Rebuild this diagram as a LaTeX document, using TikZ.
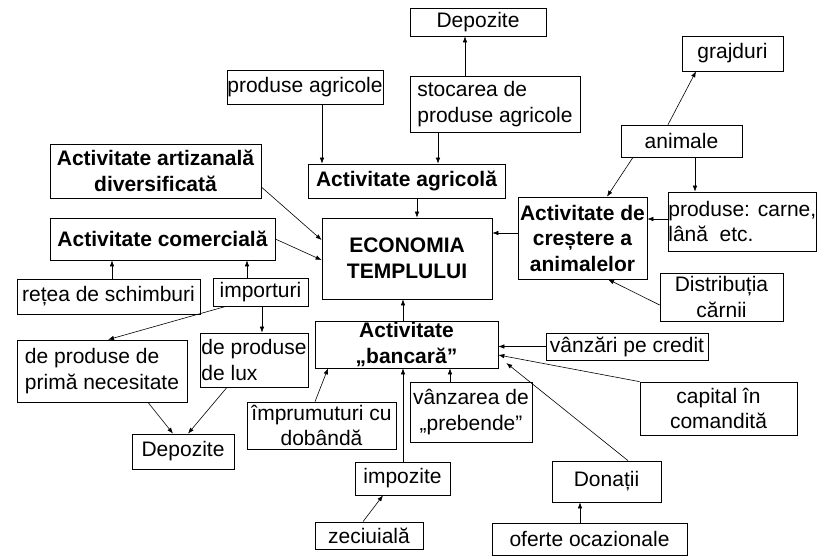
\documentclass[tikz,border=0pt]{standalone}
\usepackage{fontspec}
\setmainfont{Liberation Sans}
\usetikzlibrary{arrows.meta}

\begin{document}
\begin{tikzpicture}[x=1pt,y=-1pt,
  box/.style={draw,line width=0.7pt,inner sep=0pt,font=\fontsize{21}{25.5}\selectfont},
  tbox/.style={box,font=\fontsize{21}{25.5}\selectfont\bfseries},
  arr/.style={->,>={Latex[length=6pt,width=4.5pt]},line width=0.6pt}]
\useasboundingbox (0,0) rectangle (819,556);

%centru
\node[tbox,minimum width=170pt,minimum height=81pt,align=center] (econ) at (407,258.5) {ECONOMIA\\TEMPLULUI};

%sus
\node[box,minimum width=136pt,minimum height=28pt] (dep1) at (478,22) {Depozite};
\node[box,minimum width=170pt,minimum height=56pt,align=left] (stoc) at (495,104) {stocarea de\\produse agricole};
\node[box,minimum width=156pt,minimum height=34pt] (prodagr) at (305,87) {produse agricole};
\node[tbox,minimum width=197pt,minimum height=34pt] (agric) at (406.5,181) {Activitate agricolă};

%dreapta
\node[box,minimum width=101pt,minimum height=35pt] (graj) at (732.5,53.5) {grajduri};
\node[box,minimum width=121pt,minimum height=32pt] (anim) at (681.5,141) {animale};
\node[box,minimum width=142pt,minimum height=59pt,align=left,anchor=west] (carne) at (668,221.5) {produse: carne,\\lână~~etc.};
\node[tbox,minimum width=129pt,minimum height=82pt,align=center] (crest) at (582.5,238) {Activitate de\\creștere a\\animalelor};
\node[box,minimum width=123pt,minimum height=48pt,align=center] (distr) at (721.5,297) {Distribuția\\cărnii};

%stanga
\node[tbox,minimum width=211pt,minimum height=54pt,align=center] (artiz) at (155.5,171) {Activitate artizanală\\diversificată};
\node[tbox,minimum width=225pt,minimum height=42pt] (comer) at (162.5,239) {Activitate comercială};
\node[box,minimum width=183pt,minimum height=35pt] (retea) at (108.5,296.5) {rețea de schimburi};
\node[box,minimum width=95pt,minimum height=28pt] (impor) at (260.5,292) {importuri};
\node[box,minimum width=170pt,minimum height=62pt,align=left] (prima) at (102,371) {de produse de\\primă necesitate};
\node[box,minimum width=108pt,minimum height=54pt,align=left] (lux) at (254,360) {de produse\\de lux};
\node[box,minimum width=102pt,minimum height=35pt] (dep2) at (183,451.5) {Depozite};

%jos
\node[tbox,minimum width=183pt,minimum height=47pt,align=center] (banc) at (406.5,344.5) {Activitate\\„bancară”};
\node[box,minimum width=149pt,minimum height=47pt,align=center] (impr) at (321.5,425.5) {împrumuturi cu\\dobândă};
\node[box,minimum width=95pt,minimum height=33pt] (impoz) at (402.5,478.5) {impozite};
\node[box,minimum width=108pt,minimum height=27pt] (zec) at (369,535.5) {zeciuială};
\node[box,minimum width=122pt,minimum height=60pt,align=center] (preb) at (471,412) {vânzarea de\\„prebende”};
\node[box,minimum width=162pt,minimum height=27pt] (vcred) at (627,346.5) {vânzări pe credit};
\node[box,minimum width=157pt,minimum height=53pt,align=center] (capit) at (718.5,408.5) {capital în\\comandită};
\node[box,minimum width=109pt,minimum height=41pt] (donat) at (606.5,481.5) {Donații};
\node[box,minimum width=195pt,minimum height=32pt] (ofer) at (589.5,539) {oferte ocazionale};

%sagetile
\draw[arr] ([xshift=-30pt]stoc.north) -- ([xshift=-30pt]stoc.north |- dep1.south);
\draw[arr] ([xshift=-57pt]stoc.south) -- ([xshift=-57pt]stoc.south |- agric.north);
\draw[arr] ([xshift=17pt]prodagr.south) -- ([xshift=17pt]prodagr.south |- agric.north);
\draw[arr] ([xshift=10.5pt]agric.south) -- ([xshift=10.5pt]agric.south |- econ.north);
\draw[arr] ([yshift=-16pt]artiz.east) -- ([yshift=18.5pt]econ.west);
\draw[arr] (comer.east) -- ([yshift=-1.5pt]econ.west);
\draw[arr] ([yshift=5pt]crest.west) -- ([yshift=5pt]crest.west -| econ.east);

\draw[arr] ([xshift=-13.5pt]anim.north) -- ([xshift=-36.5pt]graj.south);
\draw[arr] ([xshift=-48.5pt]anim.south) -- ([xshift=24.5pt]crest.north);
\draw[arr] ([xshift=13.5pt]anim.south) -- ([xshift=13.5pt]anim.south |- carne.north);
\draw[arr] ([yshift=2.5pt]carne.west) -- ([yshift=2.5pt]carne.west -| crest.east);
\draw[arr] ([yshift=-8pt]distr.west) -- ([xshift=25.5pt]crest.south);

\draw[arr] ([xshift=3.5pt]retea.north) -- ([xshift=3.5pt]retea.north |- comer.south);
\draw[arr] ([xshift=-13.5pt]impor.north) -- ([xshift=-13.5pt]impor.north |- comer.south);
\draw[arr] ([xshift=-34.5pt]impor.south) -- ([xshift=6pt]prima.north);
\draw[arr] ([xshift=1.5pt]impor.south) -- ([xshift=1.5pt]impor.south |- lux.north);
\draw[arr] ([xshift=46pt]prima.south) -- ([xshift=-10pt]dep2.north);
\draw[arr] ([xshift=-27pt]lux.south) -- ([xshift=5pt]dep2.north);

\draw[arr] ([xshift=-3.5pt]banc.north) -- ([xshift=-3.5pt]banc.north |- econ.south);
\draw[arr] ([xshift=-6.5pt]impr.north) -- ([xshift=-78.5pt]banc.south);
\draw[arr] ([xshift=0.5pt]impoz.north) -- ([xshift=0.5pt]impoz.north |- banc.south);
\draw[arr] ([xshift=-6pt]zec.north) -- ([xshift=-19.5pt]impoz.south);
\draw[arr] ([xshift=-21pt]preb.north) -- ([xshift=-21pt]preb.north |- banc.south);
\draw[arr] (vcred.west) -- (vcred.west -| banc.east);
\draw[arr] (capit.north west) -- ([yshift=-10.5pt]banc.east);
\draw[arr] ([xshift=21.5pt]donat.north) -- ([shift={(8pt,-18.5pt)}]banc.east);
\draw[arr] ([xshift=-9.5pt]ofer.north) -- ([xshift=-9.5pt]ofer.north |- donat.south);
%\draw[arr] (banc) -- (econ);
\end{tikzpicture}
\end{document}
